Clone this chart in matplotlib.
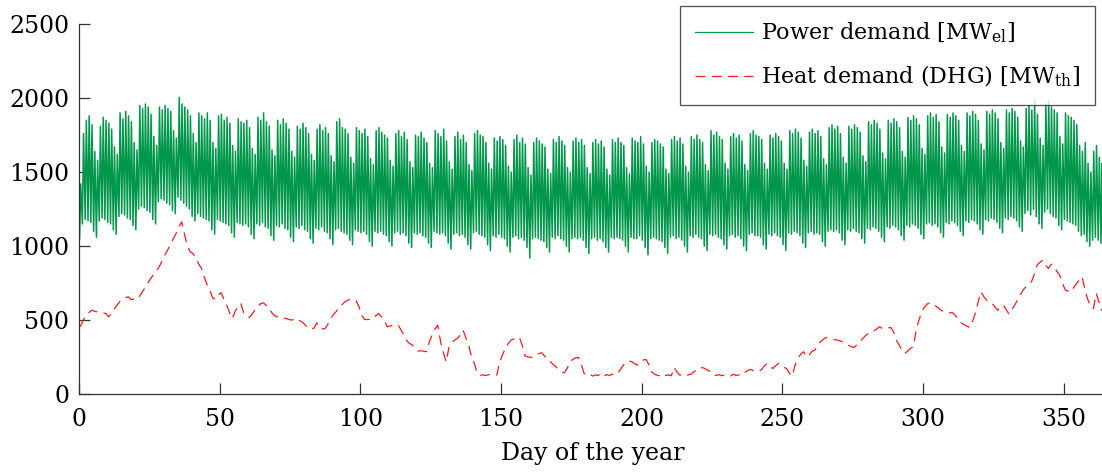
import numpy as np
import matplotlib
matplotlib.use("Agg")
import matplotlib.pyplot as plt

plt.rcParams['font.family'] = ['DejaVu Serif']
plt.rcParams['mathtext.fontset'] = 'dejavuserif'

# daily peak of the power demand [MW_el], one row per week (Mon..Sun)
power_high = [
    1420, 1760, 1850, 1880, 1820, 1640, 1580,
    1810, 1870, 1850, 1830, 1790, 1670, 1620,
    1900, 1860, 1910, 1880, 1840, 1700, 1650,
    1950, 1930, 1960, 1940, 1890, 1740, 1680,
    1940, 1920, 1950, 1930, 1910, 1780, 1730,
    2005, 1960, 1940, 1920, 1880, 1760, 1700,
    1900, 1880, 1860, 1900, 1850, 1700, 1660,
    1880, 1890, 1850, 1870, 1830, 1680, 1640,
    1860, 1840, 1830, 1850, 1800, 1660, 1620,
    1870, 1850, 1900, 1840, 1810, 1650, 1610,
    1850, 1820, 1860, 1830, 1790, 1640, 1600,
    1810, 1790, 1830, 1800, 1760, 1620, 1580,
    1790, 1820, 1780, 1800, 1760, 1610, 1570,
    1840, 1860, 1800, 1790, 1760, 1600, 1560,
    1800, 1780, 1760, 1790, 1740, 1590, 1550,
    1780, 1800, 1770, 1750, 1730, 1580, 1540,
    1760, 1780, 1740, 1770, 1720, 1570, 1530,
    1750, 1740, 1770, 1730, 1700, 1560, 1530,
    1780, 1760, 1740, 1790, 1710, 1570, 1520,
    1740, 1770, 1720, 1750, 1700, 1550, 1510,
    1760, 1780, 1750, 1740, 1700, 1560, 1520,
    1730, 1710, 1740, 1720, 1680, 1540, 1500,
    1720, 1750, 1700, 1730, 1690, 1530, 1480,
    1700, 1730, 1710, 1690, 1670, 1520, 1490,
    1720, 1700, 1740, 1710, 1680, 1530, 1500,
    1710, 1730, 1700, 1720, 1680, 1530, 1490,
    1700, 1720, 1690, 1710, 1670, 1520, 1480,
    1720, 1700, 1730, 1700, 1680, 1530, 1490,
    1730, 1710, 1700, 1740, 1690, 1540, 1500,
    1700, 1720, 1710, 1690, 1670, 1520, 1490,
    1720, 1740, 1710, 1730, 1690, 1540, 1500,
    1740, 1720, 1750, 1720, 1700, 1550, 1510,
    1780, 1750, 1770, 1740, 1720, 1560, 1520,
    1740, 1760, 1730, 1750, 1710, 1550, 1510,
    1760, 1780, 1750, 1740, 1720, 1560, 1520,
    1750, 1730, 1760, 1740, 1710, 1560, 1520,
    1780, 1760, 1790, 1770, 1730, 1580, 1540,
    1770, 1790, 1760, 1780, 1740, 1590, 1550,
    1800, 1820, 1790, 1810, 1760, 1600, 1560,
    1810, 1790, 1820, 1800, 1770, 1610, 1570,
    1840, 1820, 1850, 1830, 1790, 1630, 1590,
    1850, 1830, 1860, 1840, 1800, 1640, 1600,
    1870, 1850, 1880, 1860, 1820, 1660, 1620,
    1880, 1900, 1870, 1890, 1840, 1670, 1630,
    1890, 1870, 1900, 1880, 1850, 1680, 1640,
    1900, 1880, 1910, 1890, 1850, 1690, 1650,
    1910, 1890, 1920, 1900, 1860, 1700, 1660,
    1920, 1900, 1930, 1910, 1870, 1710, 1670,
    1930, 1950, 1920, 1990, 1890, 1730, 1680,
    1960, 1980, 1940, 1920, 1900, 1740, 1690,
    1900, 1880, 1870, 1850, 1820, 1680, 1640,
    1700, 1560, 1500, 1640, 1680, 1600, 1560,
    1450,
]

# daily night minimum of the power demand [MW_el]
power_low = [
    1050, 1150, 1180, 1170, 1160, 1100, 1060,
    1170, 1190, 1180, 1160, 1150, 1110, 1080,
    1200, 1220, 1210, 1190, 1180, 1140, 1110,
    1250, 1270, 1260, 1240, 1230, 1180, 1150,
    1300, 1320, 1310, 1290, 1280, 1240, 1220,
    1330, 1310, 1290, 1270, 1250, 1200, 1170,
    1220, 1200, 1190, 1180, 1170, 1110, 1080,
    1180, 1170, 1160, 1150, 1140, 1090, 1060,
    1160, 1150, 1140, 1150, 1130, 1080, 1050,
    1150, 1140, 1160, 1130, 1120, 1070, 1040,
    1140, 1130, 1150, 1120, 1110, 1060, 1030,
    1130, 1120, 1140, 1110, 1100, 1050, 1020,
    1120, 1110, 1130, 1100, 1090, 1050, 1010,
    1110, 1120, 1100, 1090, 1080, 1040, 1010,
    1110, 1100, 1090, 1100, 1080, 1030, 1000,
    1100, 1090, 1100, 1080, 1070, 1030, 1000,
    1090, 1100, 1080, 1090, 1070, 1020, 990,
    1090, 1080, 1090, 1070, 1060, 1020, 990,
    1100, 1090, 1080, 1090, 1070, 1020, 980,
    1080, 1090, 1070, 1080, 1060, 1010, 980,
    1090, 1100, 1080, 1070, 1060, 1010, 970,
    1070, 1060, 1080, 1060, 1050, 1000, 960,
    1060, 1070, 1050, 1060, 1040, 990, 920,
    1050, 1060, 1050, 1040, 1030, 990, 960,
    1060, 1050, 1070, 1050, 1040, 1000, 960,
    1050, 1060, 1050, 1060, 1040, 990, 950,
    1050, 1060, 1040, 1050, 1030, 990, 960,
    1060, 1050, 1060, 1050, 1040, 1000, 960,
    1060, 1050, 1050, 1070, 1040, 990, 940,
    1050, 1060, 1050, 1040, 1030, 990, 950,
    1060, 1070, 1050, 1060, 1040, 1000, 960,
    1070, 1060, 1080, 1060, 1050, 1000, 970,
    1080, 1070, 1080, 1060, 1050, 1010, 980,
    1070, 1080, 1060, 1070, 1050, 1000, 970,
    1080, 1090, 1070, 1070, 1060, 1010, 980,
    1080, 1070, 1090, 1070, 1060, 1010, 970,
    1090, 1080, 1100, 1090, 1070, 1020, 990,
    1090, 1100, 1080, 1090, 1080, 1030, 1000,
    1100, 1110, 1100, 1110, 1090, 1040, 1010,
    1110, 1100, 1120, 1100, 1090, 1050, 1020,
    1120, 1110, 1130, 1120, 1100, 1060, 1030,
    1130, 1120, 1140, 1130, 1110, 1070, 1040,
    1140, 1130, 1150, 1140, 1120, 1080, 1050,
    1150, 1160, 1140, 1150, 1130, 1090, 1060,
    1160, 1150, 1170, 1160, 1140, 1100, 1070,
    1170, 1160, 1180, 1170, 1150, 1110, 1080,
    1180, 1170, 1190, 1180, 1160, 1120, 1090,
    1190, 1180, 1200, 1190, 1170, 1130, 1100,
    1220, 1240, 1210, 1250, 1200, 1150, 1120,
    1230, 1250, 1220, 1200, 1190, 1140, 1110,
    1180, 1170, 1160, 1150, 1140, 1100, 1070,
    1080, 1030, 1000, 1040, 1060, 1040, 1020,
    1040,
]

# daily district heating demand [MW_th]
heat = [
    455, 500, 530, 550, 567, 560, 556, 550, 548, 545,
    522, 545, 575, 600, 625, 640, 650, 658, 640, 640,
    638, 660, 691, 720, 752, 782, 808, 835, 860, 900,
    940, 973, 1010, 1050, 1086, 1130, 1164, 1080, 1000, 962,
    950, 920, 880, 850, 790, 740, 700, 650, 640, 670,
    685, 640, 600, 550, 511, 560, 590, 613, 550, 530,
    518, 540, 567, 590, 610, 617, 600, 585, 550, 530,
    522, 518, 514, 511, 505, 500, 505, 511, 495, 485,
    465, 444, 445, 444, 482, 445, 440, 444, 475, 511,
    540, 560, 585, 605, 624, 635, 640, 640, 630, 590,
    530, 504, 504, 505, 510, 530, 545, 520, 500, 455,
    460, 466, 466, 466, 430, 399, 360, 342, 331, 310,
    290, 293, 290, 286, 354, 400, 440, 466, 354, 280,
    218, 320, 350, 365, 376, 400, 432, 380, 331, 250,
    207, 140, 128, 130, 125, 132, 128, 126, 130, 218,
    265, 309, 340, 365, 372, 378, 383, 330, 257, 252,
    248, 250, 262, 275, 279, 255, 234, 220, 200, 185,
    165, 150, 144, 175, 218, 235, 245, 248, 200, 140,
    128, 135, 122, 130, 126, 138, 120, 132, 125, 135,
    128, 140, 170, 196, 215, 225, 218, 205, 196, 215,
    230, 234, 200, 150, 135, 128, 122, 135, 126, 130,
    124, 180, 150, 128, 132, 124, 130, 135, 150, 165,
    175, 180, 172, 160, 153, 130, 126, 132, 124, 130,
    128, 122, 134, 126, 130, 128, 145, 158, 167, 160,
    155, 153, 165, 189, 207, 190, 173, 190, 207, 195,
    180, 173, 140, 122, 198, 241, 270, 286, 252, 265,
    290, 297, 330, 354, 370, 383, 378, 372, 368, 365,
    360, 352, 342, 330, 320, 315, 335, 354, 375, 395,
    410, 420, 428, 440, 455, 443, 445, 448, 450, 420,
    365, 330, 295, 275, 290, 310, 320, 432, 500, 556,
    590, 610, 617, 605, 595, 580, 565, 556, 553, 550,
    550, 530, 505, 482, 470, 460, 450, 490, 545, 620,
    691, 660, 635, 620, 613, 590, 567, 585, 601, 570,
    540, 570, 600, 635, 670, 703, 725, 745, 759, 810,
    872, 890, 905, 870, 849, 878, 860, 830, 804, 750,
    703, 695, 691, 720, 748, 770, 793, 703, 640, 590,
    578, 680, 620, 567, 555,
]

days = np.arange(len(power_high))

# night minimum early in the day, peak around midday
t_power = np.column_stack([days + 0.2, days + 0.6]).ravel()
p_power = np.column_stack([power_low, power_high]).ravel()
t_heat = np.arange(len(heat)) + 0.5

fig = plt.figure(figsize=(11.02, 4.72), dpi=100)
ax = fig.add_axes([0.0717, 0.165, 0.932, 0.784])

ax.plot(t_power, p_power, color='#00974a', lw=1.1, label=r'Power demand [MW$_{\mathrm{el}}$]')
ax.plot(t_heat, heat, color='#ff1a1a', lw=0.9, linestyle=(0, (8, 5)),
        label=r'Heat demand (DHG) [MW$_{\mathrm{th}}$]')

ax.set_xlim(0, 365)
ax.set_ylim(0, 2500)
ax.set_xticks([0, 50, 100, 150, 200, 250, 300, 350])
ax.set_yticks([0, 500, 1000, 1500, 2000, 2500])
ax.spines['top'].set_visible(False)
ax.spines['right'].set_visible(False)
for s in ('left', 'bottom'):
    ax.spines[s].set_color('#333333')
    ax.spines[s].set_linewidth(0.9)
ax.tick_params(direction='in', length=8, width=0.9, color='#333333',
               labelsize=17, pad=7)
ax.tick_params(axis='x', pad=10)
ax.set_xlabel('Day of the year', fontsize=17, labelpad=8)

leg = ax.legend(loc='upper right', bbox_to_anchor=(0.9895, 1.05), fontsize=16,
                frameon=True, fancybox=False, handlelength=2.6, borderpad=0.7,
                labelspacing=0.85, handletextpad=0.35, borderaxespad=0.0)
leg.get_frame().set_edgecolor('#222222')
leg.get_frame().set_linewidth(0.9)
for h in leg.get_lines():
    h.set_linewidth(0.9)

fig.savefig('out.png', dpi=100)
